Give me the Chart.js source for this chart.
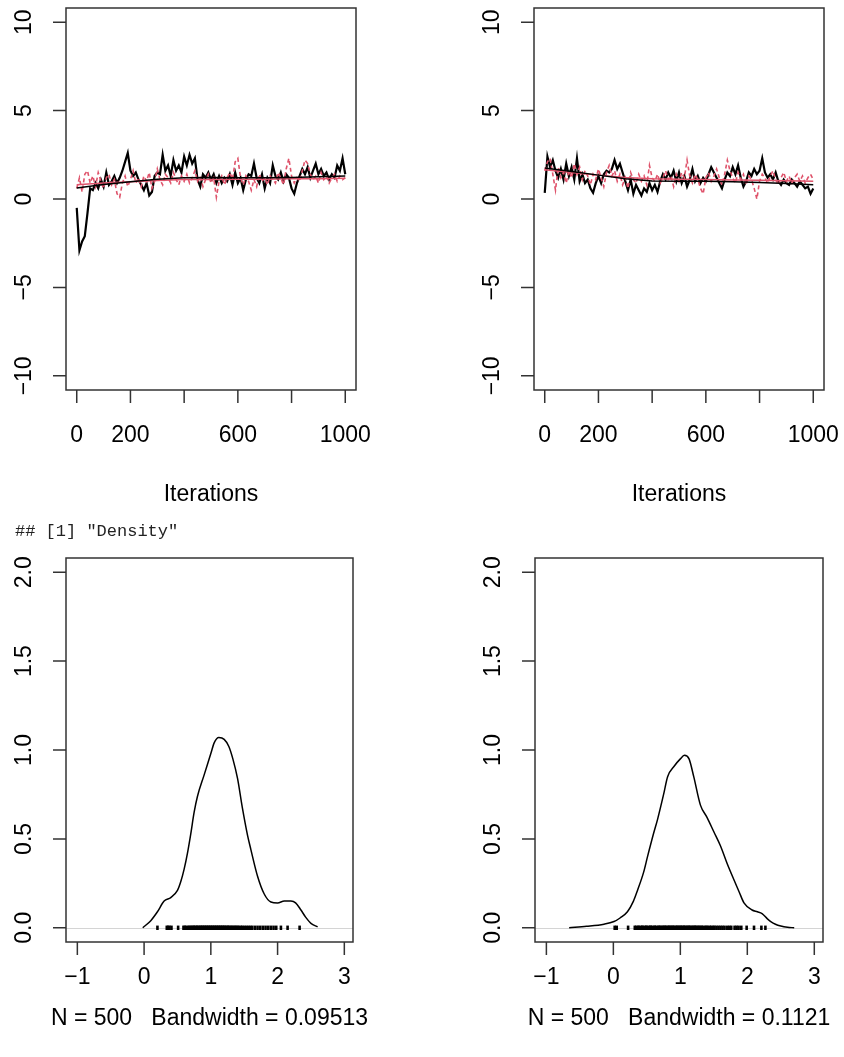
<!DOCTYPE html>
<html>
<head>
<meta charset="utf-8">
<script src="https://cdn.jsdelivr.net/npm/chart.js@4"></script>
<style>
  body { margin: 0; background: #fff; width: 844px; height: 1057px; position: relative; overflow: hidden; }
  canvas { position: absolute; }
  #echo { position: absolute; left: 15px; top: 522px; font: 17px "Liberation Mono", monospace; color: #222; white-space: pre; line-height: 20px; }
</style>
</head>
<body>
<canvas id="traceA" width="422" height="528" style="left:0;top:0"></canvas>
<canvas id="traceB" width="422" height="528" style="left:422px;top:0"></canvas>
<div id="echo">## [1] "Density"</div>
<canvas id="densA" width="422" height="529" style="left:0;top:528px"></canvas>
<canvas id="densB" width="422" height="529" style="left:422px;top:528px"></canvas>
<script>
// trace plots: two chains, sampled every 10 iterations
const iterations = [0,10,20,30,40,50,60,70,80,90,100,110,120,130,140,150,160,170,180,190,
  200,210,220,230,240,250,260,270,280,290,300,310,320,330,340,350,360,370,380,390,
  400,410,420,430,440,450,460,470,480,490,500,510,520,530,540,550,560,570,580,590,
  600,610,620,630,640,650,660,670,680,690,700,710,720,730,740,750,760,770,780,790,
  800,810,820,830,840,850,860,870,880,890,900,910,920,930,940,950,960,970,980,990,1000];

const traceBlack1 = [-0.5,-2.9,-2.4,-2.1,-0.8,0.6,0.5,0.9,0.6,1.1, 0.7,1.5,0.8,1.0,1.3,0.9,1.2,1.6,2.1,2.6,
  1.6,1.3,1.5,1.1,0.8,0.5,0.9,0.2,0.4,1.3, 1.5,1.4,2.5,1.6,1.9,1.3,2.2,1.6,1.9,1.5,
  2.4,1.9,2.5,2.0,2.3,1.1,0.7,1.4,1.2,1.5, 1.1,1.4,0.9,1.3,0.9,1.2,1.0,1.4,0.8,1.5,
  0.9,1.2,0.5,1.1,1.4,1.3,2.0,1.2,0.9,1.4, 0.6,1.2,0.9,1.9,1.3,1.1,1.5,1.0,1.4,1.2,
  0.6,0.3,0.9,1.3,1.7,1.4,1.8,1.2,1.6,2.0, 1.4,1.7,1.3,1.5,1.1,1.4,1.2,1.9,1.6,2.3, 1.4];
const traceRed1 = [0.6,1.2,0.4,1.4,1.6,0.9,1.3,0.7,1.5,1.0, 0.6,1.2,1.4,0.8,1.1,0.3,0.1,0.9,1.3,0.7,
  1.1,1.6,0.9,1.2,0.7,1.3,1.0,1.5,0.6,1.0, 1.7,1.1,0.8,1.4,1.2,0.9,1.5,1.1,0.8,1.3,
  1.0,1.4,0.9,1.2,1.6,1.0,1.3,0.7,1.1,1.4, 0.9,1.2,0.1,1.0,1.3,0.8,1.2,1.5,1.1,2.1,
  2.3,1.2,0.8,1.3,1.0,0.5,1.1,0.7,1.4,1.0, 1.2,0.8,1.3,1.1,0.9,1.5,1.2,0.8,1.7,2.3,
  1.3,0.9,1.2,1.0,1.6,2.2,2.0,1.4,1.1,1.3, 0.9,1.5,1.1,1.3,0.9,1.2,1.4,1.0,1.3,1.1, 1.2];

const traceBlack2 = [0.35,2.4,1.8,2.2,1.6,1.2,1.7,1.1,2.0,1.3, 1.8,1.1,2.3,1.0,1.4,0.9,1.1,0.6,0.35,0.9,
  1.3,0.9,1.4,1.6,1.5,1.7,2.2,1.7,2.0,1.5, 1.0,0.5,1.1,0.3,0.8,0.5,0.2,0.6,0.4,0.9,
  0.5,0.8,0.4,1.0,1.4,1.1,1.5,1.2,1.6,1.0, 1.5,0.9,1.3,0.7,1.1,1.7,1.0,1.3,0.9,1.2,
  1.0,1.4,1.8,1.5,1.2,0.9,0.6,1.1,1.5,1.3, 1.8,1.4,1.9,1.2,0.7,1.0,1.5,1.3,1.7,1.4,
  1.6,2.3,1.5,1.2,1.4,1.1,1.5,1.0,0.8,1.1, 0.9,0.8,1.1,0.9,0.7,1.0,0.8,0.6,0.7,0.3, 0.6];
const traceRed2 = [1.6,2.1,2.3,1.4,0.5,1.8,1.2,1.5,0.9,1.6, 1.2,2.0,1.4,1.8,1.1,1.6,1.3,0.8,1.4,1.1,
  1.7,1.2,0.7,1.5,1.9,1.3,1.6,1.0,1.4,0.8, 1.2,0.6,1.5,1.1,0.9,1.4,1.0,1.3,0.8,1.9,
  1.2,1.0,1.4,0.9,1.2,1.6,1.1,1.3,0.7,1.4, 1.0,1.5,1.2,2.2,1.3,0.9,1.4,1.1,0.6,0.3,
  1.2,1.5,1.0,1.3,1.7,1.2,0.8,1.4,2.2,1.6, 1.2,0.9,1.5,1.1,1.4,0.8,1.3,1.1,0.6,0.0,
  1.0,1.4,1.2,0.9,1.3,1.6,1.1,0.8,1.2,1.5, 1.0,1.3,0.9,1.2,1.4,1.0,1.3,0.9,1.2,1.4, 1.1];

// lowess smooths
const smoothIter = [0,100,200,300,400,500,600,700,800,900,1000];
const smoothBlack1 = [0.62,0.82,0.98,1.12,1.20,1.22,1.20,1.20,1.22,1.26,1.30];
const smoothRed1 = [0.80,0.90,0.98,1.05,1.10,1.10,1.12,1.12,1.14,1.15,1.17];
const smoothBlack2 = [1.75,1.55,1.35,1.15,1.02,1.00,1.00,0.98,0.93,0.87,0.80];
const smoothRed2 = [1.65,1.50,1.35,1.22,1.15,1.12,1.10,1.08,1.06,1.03,1.00];

// density curves
const densX1 = [-0.02,0.1,0.2,0.3,0.4,0.5,0.55,0.6,0.65,0.7,0.75,0.8,0.9,1.0,1.05,1.12,1.2,1.27,1.33,1.4,
  1.47,1.55,1.6,1.7,1.8,1.9,2.0,2.1,2.2,2.27,2.35,2.42,2.5,2.6];
const densY1 = [0.0,0.04,0.09,0.15,0.17,0.21,0.26,0.33,0.42,0.53,0.65,0.74,0.86,0.98,1.04,1.07,1.06,1.02,0.95,0.84,
  0.68,0.52,0.44,0.29,0.19,0.145,0.14,0.15,0.15,0.14,0.10,0.06,0.025,0.005];
const densX2 = [-0.66,-0.4,-0.14,0.01,0.1,0.21,0.3,0.36,0.45,0.51,0.6,0.66,0.75,0.81,0.91,1.0,1.06,1.13,1.2,1.3,
  1.4,1.5,1.6,1.7,1.8,1.88,1.95,2.07,2.15,2.22,2.3,2.35,2.42,2.5,2.6,2.7];
const densY2 = [0.0,0.008,0.02,0.035,0.055,0.09,0.15,0.21,0.31,0.40,0.53,0.61,0.75,0.85,0.91,0.95,0.97,0.95,0.85,0.69,
  0.62,0.54,0.46,0.36,0.27,0.20,0.14,0.10,0.09,0.08,0.05,0.035,0.02,0.01,0.003,0.0];

// rug marks
const rug1 = [0.20,0.34,0.36,0.38,0.41,0.51,0.59,0.61,0.63,0.66,0.68,0.70,0.72,0.74,0.75,0.77,0.79,0.80,0.82,0.84,
  0.85,0.87,0.88,0.90,0.91,0.93,0.94,0.96,0.97,0.99,1.00,1.02,1.03,1.05,1.06,1.08,1.09,1.11,1.12,1.14,
  1.15,1.17,1.18,1.20,1.21,1.23,1.25,1.26,1.28,1.30,1.32,1.34,1.36,1.38,1.40,1.42,1.45,1.47,1.50,1.53,
  1.56,1.59,1.62,1.66,1.70,1.74,1.78,1.82,1.86,1.90,1.94,1.98,2.05,2.15,2.33];
const rug2 = [0.02,0.05,0.22,0.32,0.34,0.37,0.38,0.41,0.43,0.44,0.47,0.49,0.50,0.53,0.55,0.56,0.58,0.61,0.62,0.64,
  0.67,0.68,0.70,0.72,0.74,0.76,0.77,0.79,0.81,0.83,0.84,0.86,0.88,0.89,0.91,0.93,0.95,0.96,0.98,1.00,
  1.01,1.03,1.05,1.06,1.08,1.10,1.12,1.13,1.15,1.17,1.19,1.21,1.22,1.24,1.26,1.28,1.30,1.32,1.34,1.37,
  1.39,1.41,1.44,1.46,1.49,1.51,1.54,1.57,1.60,1.63,1.66,1.70,1.73,1.76,1.81,1.84,1.87,1.91,1.99,2.10,
  2.21,2.27];

const traceYTicks = [-10, -5, 0, 5, 10];
const traceYLabels = ['\u221210', '\u22125', '0', '5', '10'];
const traceXTicks = [0, 200, 400, 600, 800, 1000];
const traceXLabels = ['0', '200', '', '600', '', '1000'];
const densYTicks = [0, 0.5, 1, 1.5, 2];
const densYLabels = ['0.0', '0.5', '1.0', '1.5', '2.0'];
const densXTicks = [-1, 0, 1, 2, 3];
const densXLabels = ['\u22121', '0', '1', '2', '3'];
const densTitles = ['N = 500   Bandwidth = 0.09513', 'N = 500   Bandwidth = 0.1121'];

const BLACK = '#000000';
const RED = '#DF536B';

function pts(xs, ys) {
    return xs.map((v, i) => ({ x: v, y: ys[i] }));
}

// R style box, ticks and labels
const rAxes = {
    id: 'rAxes',
    beforeDatasetsDraw(chart, args, o) {
        if (!o.zeroLine) return;
        const { ctx, chartArea: a, scales: { y } } = chart;
        const py = Math.round(y.getPixelForValue(0)) + 0.5;
        ctx.save();
        ctx.strokeStyle = '#d4d4d4';
        ctx.lineWidth = 1;
        ctx.beginPath();
        ctx.moveTo(a.left, py);
        ctx.lineTo(a.right, py);
        ctx.stroke();
        ctx.restore();
    },
    afterDatasetsDraw(chart, args, o) {
        const { ctx, chartArea: a, scales: { x, y } } = chart;
        ctx.save();
        ctx.strokeStyle = '#333';
        ctx.lineWidth = 1.5;
        ctx.strokeRect(a.left, a.top, a.right - a.left, a.bottom - a.top);
        ctx.fillStyle = '#000';
        ctx.font = '23px "Liberation Sans", Arial, sans-serif';
        ctx.textAlign = 'center';
        ctx.textBaseline = 'middle';
        ctx.beginPath();
        o.xTicks.forEach((v, i) => {
            const px = x.getPixelForValue(v);
            ctx.moveTo(px, a.bottom);
            ctx.lineTo(px, a.bottom + 13);
            if (o.xLabels[i]) ctx.fillText(o.xLabels[i], px, a.bottom + o.labelGap);
        });
        o.yTicks.forEach((v, i) => {
            const py = y.getPixelForValue(v);
            ctx.moveTo(a.left, py);
            ctx.lineTo(a.left - 13, py);
            ctx.save();
            ctx.translate(a.left - 41, py);
            ctx.rotate(-Math.PI / 2);
            ctx.fillText(o.yLabels[i], 0, 0);
            ctx.restore();
        });
        ctx.stroke();
        ctx.fillText(o.title, (a.left + a.right) / 2, a.bottom + o.titleGap);
        ctx.restore();
    }
};

function makeChart(id, pad, xr, yr, datasets, axes) {
    return new Chart(document.getElementById(id), {
        type: 'line',
        data: { datasets: datasets },
        options: {
            responsive: false,
            animation: false,
            events: [],
            layout: { padding: pad },
            plugins: { legend: { display: false }, tooltip: { enabled: false }, rAxes: axes },
            scales: {
                x: { type: 'linear', min: xr[0], max: xr[1], display: false },
                y: { type: 'linear', min: yr[0], max: yr[1], display: false }
            },
            elements: { point: { radius: 0 }, line: { tension: 0 } }
        },
        plugins: [rAxes]
    });
}

function traceSets(black, red, sBlack, sRed) {
    return [
        { data: pts(smoothIter, sBlack), borderColor: BLACK, borderWidth: 1.5, order: 0 },
        { data: pts(smoothIter, sRed), borderColor: RED, borderWidth: 1.5, order: 0 },
        { data: pts(iterations, red), borderColor: RED, borderWidth: 1.6, borderDash: [4, 3], order: 1 },
        { data: pts(iterations, black), borderColor: BLACK, borderWidth: 2.2, order: 2 }
    ];
}

function densSets(xs, ys, rug) {
    return [
        { data: pts(xs, ys), borderColor: BLACK, borderWidth: 1.5, cubicInterpolationMode: 'monotone' },
        { data: rug.map(v => ({ x: v, y: 0 })), showLine: false, pointStyle: 'line', pointRotation: 90,
          pointRadius: 2.2, pointBorderColor: BLACK, pointBorderWidth: 2.6 }
    ];
}

const traceAxes = { xTicks: traceXTicks, xLabels: traceXLabels, yTicks: traceYTicks, yLabels: traceYLabels,
    title: 'Iterations', labelGap: 46, titleGap: 105 };

makeChart('traceA', { left: 66, top: 8, right: 66, bottom: 138 }, [-40, 1040], [-10.8, 10.8],
    traceSets(traceBlack1, traceRed1, smoothBlack1, smoothRed1), traceAxes);
makeChart('traceB', { left: 112, top: 8, right: 20, bottom: 138 }, [-40, 1040], [-10.8, 10.8],
    traceSets(traceBlack2, traceRed2, smoothBlack2, smoothRed2), traceAxes);

makeChart('densA', { left: 66, top: 30, right: 69, bottom: 115 }, [-1.17, 3.13], [-0.08, 2.08],
    densSets(densX1, densY1, rug1),
    { xTicks: densXTicks, xLabels: densXLabels, yTicks: densYTicks, yLabels: densYLabels,
      title: densTitles[0], labelGap: 36, titleGap: 77, zeroLine: true });
makeChart('densB', { left: 113, top: 30, right: 21, bottom: 115 }, [-1.17, 3.13], [-0.08, 2.08],
    densSets(densX2, densY2, rug2),
    { xTicks: densXTicks, xLabels: densXLabels, yTicks: densYTicks, yLabels: densYLabels,
      title: densTitles[1], labelGap: 36, titleGap: 77, zeroLine: true });
</script>
</body>
</html>
